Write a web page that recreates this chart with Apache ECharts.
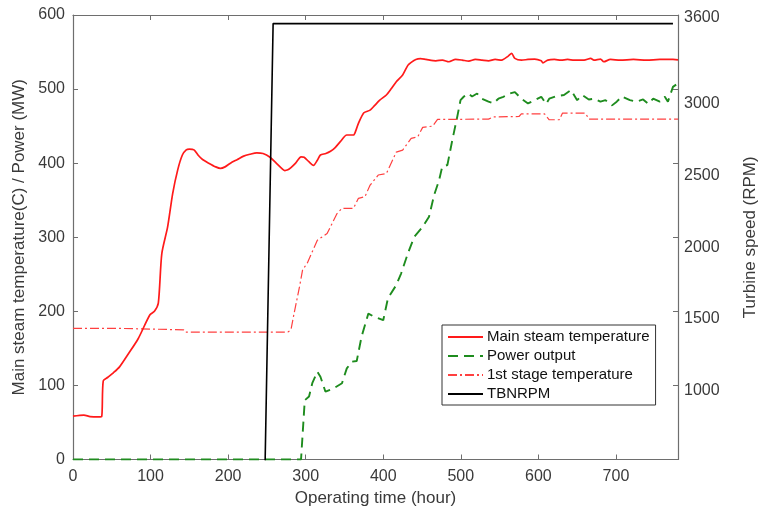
<!DOCTYPE html>
<html>
<head>
<meta charset="utf-8">
<title>Turbine start-up</title>
<script src="https://cdn.jsdelivr.net/npm/echarts@6/dist/echarts.min.js"></script>
<style>
  html, body { margin: 0; padding: 0; background: #fff; }
  #chart { width: 767px; height: 513px; }
</style>
</head>
<body>
<div id="chart"></div>
<script>
// Main steam temperature (C) against operating time (hour)
const steamHours = [0, 14, 22, 33, 37, 39, 45, 52, 60, 71, 84, 99, 105, 110, 114.5, 122, 128.5, 135, 141, 146, 150, 156, 162, 167, 175, 184, 190, 196, 203, 212, 220, 228, 237, 245, 254, 262, 268, 273, 277, 281, 287, 294, 298, 304, 310, 315, 319, 326, 332, 338, 344.6, 353, 361.6, 365, 368, 375, 383, 389, 395.5, 404, 410, 416.8, 425, 431.7, 436, 442, 448, 455, 467.8, 476.3, 484.7, 493.2, 501.8, 510.2, 518.7, 527.3, 535.7, 544.2, 552.7, 561.1, 565.5, 569.7, 578.2, 586.6, 595.2, 603.7, 605.8, 612.1, 620.6, 629.2, 637.6, 646.1, 658.9, 667.4, 671.6, 680.1, 684.3, 692.9, 705.6, 722.5, 739.5, 756.6, 773.5, 780];
const steamTemp = [58.5, 60, 58, 57.5, 58, 106, 111, 117, 125, 142, 163, 195, 200, 211, 278, 314, 359, 391, 411, 418, 419, 418, 410, 405, 400, 395, 393, 395, 400, 405, 409.5, 412, 414, 413, 408, 400, 394, 390, 391, 394, 400, 408.6, 408, 402, 397, 404, 411, 413, 416, 421, 429, 438, 438, 445, 453.7, 468, 471.6, 478, 485, 492, 500, 510, 519, 532, 536, 540, 541, 540, 538.2, 539.1, 536.9, 540, 539.1, 537.8, 540, 539.1, 538.2, 540, 539.1, 544.5, 548.2, 541.4, 539.1, 540, 540.5, 538.2, 535.5, 539.1, 540, 539.1, 540, 539.1, 539.1, 541.4, 539.1, 540.5, 536.9, 540, 539.1, 540, 539.1, 540, 540, 539.5];

// Power output (MW)
const powerHours = [0, 294, 298.8, 304.3, 308.5, 315, 319, 325.5, 336, 346.8, 353, 359.5, 365.8, 372, 380.8, 386, 400, 406, 416.8, 423, 431.7, 440, 450.8, 459, 465.6, 472, 476, 482.7, 489, 495.4, 499.6, 504, 509.4, 514.5, 521, 527, 535.7, 542, 548.4, 554.8, 563, 569.7, 578, 586.6, 595, 603.7, 610, 614, 622.8, 633, 642, 650, 656.7, 665, 671.6, 680, 686.5, 695, 701, 707.6, 718, 726.8, 735, 741.7, 748, 756.5, 763, 767, 773.5, 779];
const powerMW = [0, 0, 80, 85, 103, 118.5, 111.7, 91.5, 96, 103, 123, 132, 133, 165.7, 197, 194, 188, 217.5, 235.5, 251, 278, 300.7, 314, 327.7, 357, 377, 395, 397.5, 431, 462.6, 485, 490, 494, 490, 494, 487, 483, 480.6, 487, 489.6, 494, 496, 487, 480.6, 485, 489.6, 480, 487, 490.5, 492, 498.6, 485, 492, 486, 487, 483, 485, 478, 483, 490, 485, 483, 486, 480, 487, 483, 489.6, 483, 503, 507];

// 1st stage temperature (C)
const stageHours = [0, 60, 62, 143, 145, 277, 281, 285, 292, 296, 302, 315, 327.6, 340.4, 346.8, 361.6, 368, 376.4, 382.8, 393.5, 404, 416.8, 425, 436, 444.5, 450.8, 463.6, 470, 535.7, 542, 575, 578, 607.9, 614, 627, 631, 660.8, 665, 780];
const stageTemp = [177, 177, 175, 175, 172, 172, 175, 197, 233, 256, 265, 296, 305, 332, 339, 339, 352.5, 354.7, 370, 384, 386, 415, 417.7, 433.5, 435.6, 448.3, 450, 459, 459.5, 462.5, 463, 466.5, 466.5, 458.6, 458.6, 467.5, 467.5, 459.5, 459.5];

// Turbine speed TBNRPM (RPM)
const rpmHours = [0, 246, 258, 773.5];
const rpmValues = [0, 0, 3560, 3560];

// Axis ticks
const timeTicks = [0, 100, 200, 300, 400, 500, 600, 700];
const rpmTickLabels = [1000, 1500, 2000, 2500, 3000, 3600];

const pairs = (xs, ys) => xs.map((x, i) => [x, ys[i]]);

const FONT = '"Liberation Sans", Arial, Helvetica, sans-serif';
const AXIS_COLOR = '#6e6e6e';
const TEXT_COLOR = '#3a3a3a';
const rpmMin = 520, rpmMax = 3620;
// right-axis tick marks share the left axis' tick positions
const rpmTickMarks = [1, 2, 3, 4, 5].map(k => rpmMin + k * (rpmMax - rpmMin) / 6);

const chart = echarts.init(document.getElementById('chart'), null, { renderer: 'canvas' });

chart.setOption({
  animation: false,
  backgroundColor: '#ffffff',
  textStyle: { fontFamily: FONT },
  grid: { left: 73, top: 15, right: 83, bottom: 53.5, containLabel: false },
  legend: {
    orient: 'vertical',
    left: 442,
    top: 325,
    padding: [4, 6, 3, 5],
    itemGap: 3,
    itemWidth: 35,
    itemHeight: 14,
    borderColor: '#333',
    borderWidth: 1,
    backgroundColor: '#fff',
    itemStyle: { opacity: 0 },
    textStyle: { fontFamily: FONT, fontSize: 15, color: '#111', lineHeight: 16, padding: [0, 0, 0, -1] },
    data: ['Main steam temperature', 'Power output', '1st stage temperature', 'TBNRPM']
  },
  xAxis: [
    {
      type: 'value',
      min: 0,
      max: 780,
      name: 'Operating time (hour)',
      nameLocation: 'middle',
      nameGap: 28,
      nameTextStyle: { fontFamily: FONT, fontSize: 17, color: TEXT_COLOR },
      axisLine: { show: true, onZero: false, lineStyle: { color: AXIS_COLOR, width: 1.2 } },
      axisTick: { show: true, inside: true, length: 5, customValues: timeTicks.slice(1), lineStyle: { color: AXIS_COLOR } },
      axisLabel: { customValues: timeTicks, margin: 9, fontFamily: FONT, fontSize: 16, color: TEXT_COLOR },
      splitLine: { show: false }
    },
    {
      type: 'value',
      position: 'top',
      min: 0,
      max: 780,
      axisLine: { show: true, onZero: false, lineStyle: { color: AXIS_COLOR, width: 1.2 } },
      axisTick: { show: true, inside: true, length: 5, customValues: timeTicks.slice(1), lineStyle: { color: AXIS_COLOR } },
      axisLabel: { show: false },
      splitLine: { show: false }
    }
  ],
  yAxis: [
    {
      type: 'value',
      position: 'left',
      min: 0,
      max: 600,
      interval: 100,
      name: 'Main steam temperature(C) / Power (MW)',
      nameLocation: 'middle',
      nameGap: 41,
      nameTextStyle: { fontFamily: FONT, fontSize: 17, color: TEXT_COLOR },
      axisLine: { show: true, onZero: false, lineStyle: { color: AXIS_COLOR, width: 1.2 } },
      axisTick: { show: true, inside: true, length: 5, lineStyle: { color: AXIS_COLOR } },
      axisLabel: { margin: 8, fontFamily: FONT, fontSize: 16, color: TEXT_COLOR },
      splitLine: { show: false }
    },
    {
      type: 'value',
      position: 'right',
      min: rpmMin,
      max: rpmMax,
      name: 'Turbine speed (RPM)',
      nameLocation: 'middle',
      nameGap: 64,
      nameTextStyle: { fontFamily: FONT, fontSize: 17, color: TEXT_COLOR },
      axisLine: { show: true, onZero: false, lineStyle: { color: AXIS_COLOR, width: 1.2 } },
      axisTick: { show: true, inside: true, length: 5, customValues: rpmTickMarks, lineStyle: { color: AXIS_COLOR } },
      axisLabel: {
        customValues: rpmTickLabels,
        formatter: v => String(v),
        margin: 6, fontFamily: FONT, fontSize: 16, color: TEXT_COLOR
      },
      splitLine: { show: false }
    }
  ],
  series: [
    {
      name: 'Main steam temperature',
      type: 'line',
      xAxisIndex: 0,
      yAxisIndex: 0,
      data: pairs(steamHours, steamTemp),
      showSymbol: false,
      symbol: 'none',
      smooth: 0.25,
      lineStyle: { color: '#ff1a1a', width: 1.7 },
      itemStyle: { color: '#ff1a1a' },
      z: 4
    },
    {
      name: 'Power output',
      type: 'line',
      xAxisIndex: 0,
      yAxisIndex: 0,
      data: pairs(powerHours, powerMW),
      showSymbol: false,
      symbol: 'none',
      lineStyle: { color: '#1e8c1e', width: 1.9, type: [10, 6] },
      itemStyle: { color: '#1e8c1e' },
      z: 3
    },
    {
      name: '1st stage temperature',
      type: 'line',
      xAxisIndex: 0,
      yAxisIndex: 0,
      data: pairs(stageHours, stageTemp),
      showSymbol: false,
      symbol: 'none',
      lineStyle: { color: '#ff4040', width: 1.2, type: [9, 3, 2, 3] },
      itemStyle: { color: '#ff4040' },
      z: 3
    },
    {
      name: 'TBNRPM',
      type: 'line',
      xAxisIndex: 0,
      yAxisIndex: 1,
      data: pairs(rpmHours, rpmValues),
      showSymbol: false,
      symbol: 'none',
      clip: true,
      lineStyle: { color: '#000000', width: 1.6 },
      itemStyle: { color: '#000000' },
      z: 5
    }
  ]
});
</script>
</body>
</html>
